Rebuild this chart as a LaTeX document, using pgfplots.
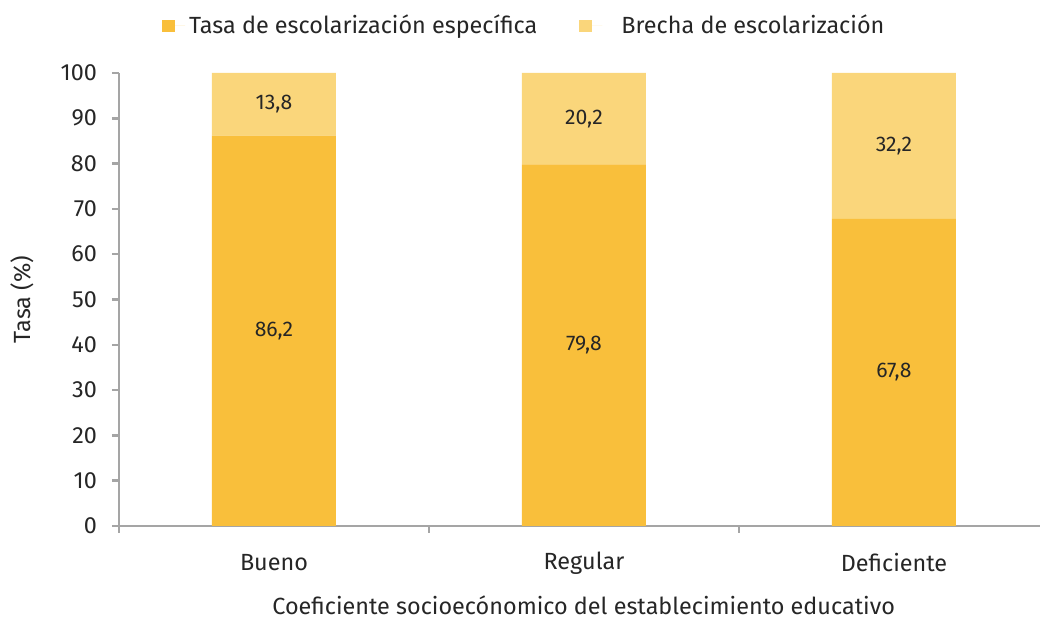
\documentclass[border=0pt]{standalone}
\usepackage{pgfplots}
\pgfplotsset{compat=1.18}
\usepackage{fontspec}
\setmainfont{Fira Sans}
\definecolor{tasa}{HTML}{F9BF3B}
\definecolor{brecha}{HTML}{FAD67B}
\definecolor{axgray}{HTML}{A5A5A5}
\definecolor{txt}{HTML}{262626}
\newcommand{\lblfont}{\fontsize{11.7}{13}\selectfont}
\pgfplotsset{commonax/.style={
  at={(59.5pt,47pt)}, anchor=south west,
  scale only axis, width=460.5pt, height=226.5pt,
  xmin=-0.5, xmax=2.471, ymin=0, ymax=100}}
\begin{document}
\begin{tikzpicture}[x=1pt,y=1pt]
\path[use as bounding box] (0,0) rectangle (520,310);
\begin{axis}[
  commonax,
  ybar stacked, bar width=62pt,
  axis lines*=left,
  axis line style={axgray, line width=1.25pt},
  every tick/.style={axgray, line width=1.25pt},
  tick align=outside,
  major tick length=3.5pt,
  ytick={0,10,...,100},
  xtick={-0.5,0.5,1.5},
  xticklabels={},
  extra x ticks={0,1,2},
  extra x tick labels={Bueno,Regular,Deficiente},
  extra x tick style={major tick length=0pt, tick label style={anchor=center, yshift=-18.5pt}},
  tick label style={font=\lblfont, text=txt},
  yticklabel style={xshift=-4pt},
  /pgf/number format/assume math mode=true,
  ylabel={Tasa (\%)},
  ylabel style={at={(axis description cs:-0.1053,0.5)}, anchor=center},
  xlabel={Coeficiente socioecónomico del establecimiento educativo},
  xlabel style={at={(axis description cs:0.5045,-0.1755)}, anchor=center, inner sep=0pt},
  label style={font=\lblfont, text=txt},
  legend style={at={(axis description cs:0.0467,1.1038)}, anchor=west, draw=none, fill=none,
    inner sep=0pt, outer sep=0pt,
    legend columns=2, font=\lblfont, text=txt,
    /tikz/every even column/.append style={column sep=19pt}},
  legend image code/.code={\fill[#1] (0pt,-3.1pt) rectangle (6.5pt,3.1pt); \path (0pt,0pt) -- (11.5pt,0pt);},
]
\addplot[fill=tasa, draw=none] coordinates {(0,86.2) (1,79.8) (2,67.8)};
\addlegendentry{Tasa de escolarización específica}
\addplot[fill=brecha, draw=none] coordinates {(0,13.8) (1,20.2) (2,32.2)};
\addlegendentry{\hspace{7.5pt}Brecha de escolarización}
\end{axis}
\begin{axis}[commonax, hide axis]
\addplot[only marks, mark=none,
  point meta=explicit symbolic, nodes near coords,
  every node near coord/.append style={anchor=center, font=\fontsize{10.6}{12}\selectfont, text=txt}]
  coordinates {(0,43.1)[86,2] (1,39.9)[79,8] (2,33.9)[67,8] (0,93.1)[13,8] (1,89.9)[20,2] (2,83.9)[32,2]};
\end{axis}
\end{tikzpicture}
\end{document}
